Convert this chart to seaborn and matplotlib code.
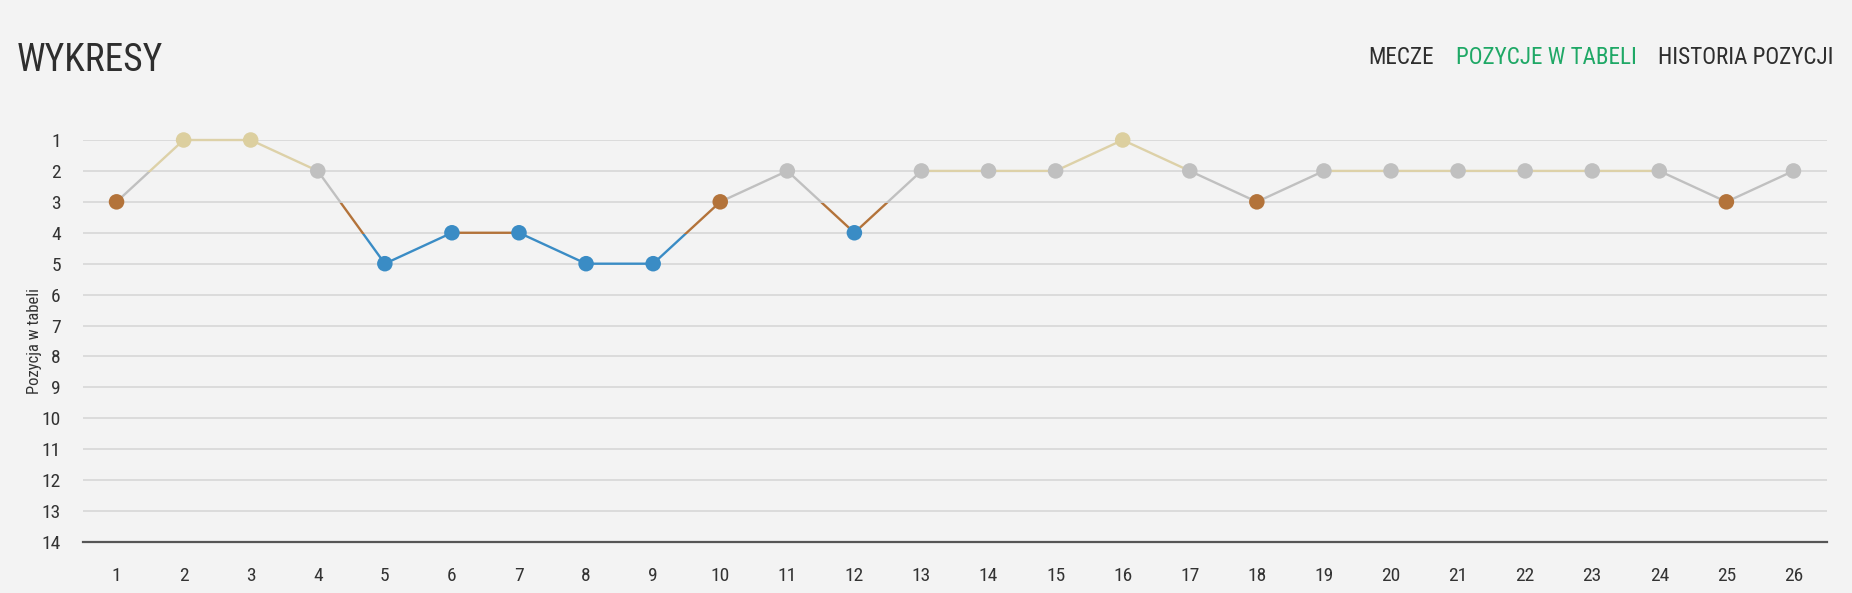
import numpy as np
import matplotlib
matplotlib.use("Agg")
import matplotlib.pyplot as plt
import pandas as pd
import seaborn as sns
from matplotlib.patches import Rectangle

# dane: kolejka -> pozycja w tabeli
kolejki = [1, 2, 3, 4, 5, 6, 7, 8, 9, 10, 11, 12, 13,
           14, 15, 16, 17, 18, 19, 20, 21, 22, 23, 24, 25, 26]
pozycje = [3, 1, 1, 2, 5, 4, 4, 5, 5, 3, 2, 4, 2,
           2, 2, 1, 2, 3, 2, 2, 2, 2, 2, 2, 3, 2]
os_y = [1, 2, 3, 4, 5, 6, 7, 8, 9, 10, 11, 12, 13, 14]

tytul = "WYKRESY"
menu = ["MECZE", "POZYCJE W TABELI", "HISTORIA POZYCJI"]
os_y_nazwa = "Pozycja w tabeli"

BG = "#f3f3f3"
ZLOTO = "#dccf9f"
SREBRO = "#c0c0c0"
BRAZ = "#b3733a"
NIEB = "#3a8cc5"

def kolor_pozycji(p):
    if p == 1:
        return "zloto"
    if p == 2:
        return "srebro"
    if p == 3:
        return "braz"
    return "reszta"

paleta = {"zloto": ZLOTO, "srebro": SREBRO, "braz": BRAZ, "reszta": NIEB}

DATA = pd.DataFrame({"Kolejka": kolejki, "Pozycja": pozycje})
DATA["Grupa"] = DATA["Pozycja"].apply(kolor_pozycji)

sns.set_style("white", {"axes.facecolor": BG, "figure.facecolor": BG})
plt.rcParams["font.family"] = ["Roboto Condensed", "Roboto", "DejaVu Sans"]

fig = plt.figure(figsize=(18.52, 5.93), dpi=100)
ax = fig.add_axes([83 / 1852, 1 - 542 / 593, (1827 - 83) / 1852, (542 - 140) / 593])
ax.set_facecolor(BG)

# linia kolorowana pasami pozycji
pasy = [(0.0, 2.05, "#ddd1a8"), (2.05, 3.05, SREBRO), (3.05, 4.05, BRAZ), (4.05, 15.0, NIEB)]
for lo, hi, c in pasy:
    sns.lineplot(data=DATA, x="Kolejka", y="Pozycja", color=c, linewidth=1.7,
                 ax=ax, zorder=3)
    ln = ax.lines[-1]
    ln.set_clip_path(Rectangle((0, lo), 30, hi - lo, transform=ax.transData))

sns.scatterplot(data=DATA, x="Kolejka", y="Pozycja", hue="Grupa", palette=paleta,
                s=125, linewidth=0, ax=ax, zorder=4, legend=False, clip_on=False)

ax.set_xlim(0.5, 26.5)
ax.set_ylim(14, 1)
ax.set_xticks(kolejki)
ax.set_yticks(os_y)
ax.set_xticklabels([str(k) for k in kolejki])
ax.set_yticklabels([str(v) for v in os_y])
ax.tick_params(axis="both", length=0, labelsize=14, colors="#333333")
ax.tick_params(axis="y", pad=16)
ax.tick_params(axis="x", pad=18)
ax.grid(axis="y", color="#d4d4d4", linewidth=1.1)
ax.grid(axis="x", visible=False)
for s in ["top", "right", "left"]:
    ax.spines[s].set_visible(False)
ax.spines["bottom"].set_color("#555555")
ax.spines["bottom"].set_linewidth(1.6)
ax.set_xlabel("")
ax.set_ylabel(os_y_nazwa, fontsize=12, color="#333333", labelpad=0)

fig.text(17 / 1852, 1 - 71 / 593, tytul, fontsize=27, color="#2e2e2e",
         ha="left", va="baseline")

# menu po prawej
renderer = fig.canvas.get_renderer()
kolory_menu = ["#2e2e2e", "#1fa866", "#2e2e2e"]
x_prawy = 1834
for napis, kol in zip(reversed(menu), reversed(kolory_menu)):
    t = fig.text(x_prawy / 1852, 1 - 64 / 593, napis, fontsize=16.7, color=kol,
                 ha="right", va="baseline")
    bb = t.get_window_extent(renderer)
    x_prawy = x_prawy - bb.width - 22

fig.savefig("out.png", dpi=100, facecolor=BG)
